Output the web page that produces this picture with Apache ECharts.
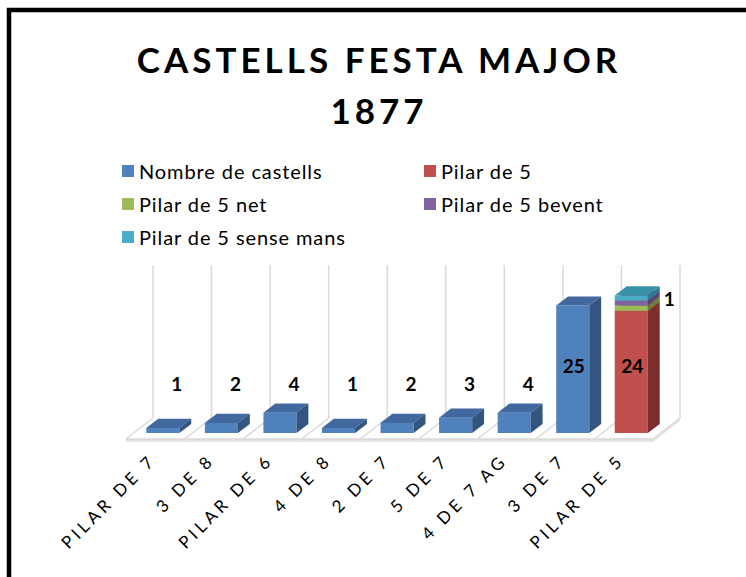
<!DOCTYPE html>
<html>
<head>
<meta charset="utf-8">
<script src="https://cdn.jsdelivr.net/npm/echarts@6/dist/echarts.min.js"></script>
<style>
html, body { margin: 0; padding: 0; background: #fff; }
#chart { width: 746px; height: 577px; }
#chart text[style*="35px"] { letter-spacing: 4px; }
#chart text[style*="17px"] { letter-spacing: 3.8px; }
#chart text[style*="20px"] { letter-spacing: 0.9px; }
</style>
</head>
<body>
<div id="chart"></div>
<script>
// ---- data ----
const titleLines = ['CASTELLS FESTA MAJOR', '1877'];
const categories = ['PILAR DE 7', '3 DE 8', 'PILAR DE 6', '4 DE 8', '2 DE 7', '5 DE 7', '4 DE 7 AG', '3 DE 7', 'PILAR DE 5'];
const seriesNames = ['Nombre de castells', 'Pilar de 5', 'Pilar de 5 net', 'Pilar de 5 bevent', 'Pilar de 5 sense mans'];
const nombreCastells = [1, 2, 4, 1, 2, 3, 4, 25, null];
const pilar5 = [null, null, null, null, null, null, null, null, 24];
const pilar5Net = [null, null, null, null, null, null, null, null, 1];
const pilar5Bevent = [null, null, null, null, null, null, null, null, 1];
const pilar5SenseMans = [null, null, null, null, null, null, null, null, 1];
const yMax = 30;

// ---- styling ----
const seriesValues = [nombreCastells, pilar5, pilar5Net, pilar5Bevent, pilar5SenseMans];
const palette = [
  { front: '#4F81BD', top: '#41699F', side: '#33557F' },
  { front: '#C0504D', top: '#A2403E', side: '#7D2F2D' },
  { front: '#9BBB59', top: '#81A046', side: '#687F37' },
  { front: '#8064A2', top: '#6A5088', side: '#56416F' },
  { front: '#4BACC6', top: '#3A92AA', side: '#2F7A8E' }
];
const DX = 27, DY = -21;      // floor depth vector (px)
const F0 = 0.28, F1 = 0.72;   // bar depth placement
const BAR_RATIO = 0.565;
const FONT = 'Lato, "Open Sans", sans-serif';

function stackBase(k, i) {
  let s = 0;
  for (let j = 0; j < k; j++) s += seriesValues[j][i] || 0;
  return s;
}

function renderWalls(params, api) {
  const i = api.value(0);
  const band = api.size([1, 0])[0];
  const c = api.coord([i, 0]);
  const top = api.coord([i, yMax]);
  const xl = c[0] - band / 2, xr = c[0] + band / 2, y0 = c[1];
  const st = { stroke: '#d9d9d9', lineWidth: 1.5 };
  const ch = [];
  ch.push({ type: 'rect', shape: { x: xl, y: y0, width: band, height: 3 }, style: { fill: '#e4e4e4' } });
  ch.push({ type: 'line', shape: { x1: xl, y1: y0, x2: xr, y2: y0 }, style: st });
  ch.push({ type: 'line', shape: { x1: xl, y1: y0, x2: xl + DX, y2: y0 + DY }, style: st });
  ch.push({ type: 'line', shape: { x1: xl + DX, y1: y0 + DY, x2: xl + DX, y2: top[1] + DY }, style: st });
  if (i === categories.length - 1) {
    ch.push({ type: 'polygon', shape: { points: [[xr, y0], [xr + DX, y0 + DY], [xr + DX, y0 + DY + 3], [xr, y0 + 3]] }, style: { fill: '#e4e4e4' } });
    ch.push({ type: 'line', shape: { x1: xr, y1: y0, x2: xr + DX, y2: y0 + DY }, style: st });
    ch.push({ type: 'line', shape: { x1: xr + DX, y1: y0 + DY, x2: xr + DX, y2: top[1] + DY }, style: st });
  }
  return { type: 'group', children: ch, silent: true };
}

function makeRender(k) {
  const col = palette[k];
  return function (params, api) {
    const i = api.value(0), v = api.value(1), b = api.value(2);
    if (!v) return null;
    const band = api.size([1, 0])[0];
    const p0 = api.coord([i, b]);
    const p1 = api.coord([i, b + v]);
    const w = band * BAR_RATIO;
    const fx = p0[0] + DX * F0 - w / 2;
    const fyB = p0[1] + DY * F0;
    const fyT = p1[1] + DY * F0;
    const ddx = DX * (F1 - F0), ddy = DY * (F1 - F0);
    const ch = [
      { type: 'rect', shape: { x: fx, y: fyT, width: w, height: fyB - fyT }, style: { fill: col.front } },
      { type: 'polygon', shape: { points: [[fx, fyT], [fx + w, fyT], [fx + w + ddx, fyT + ddy], [fx + ddx, fyT + ddy]] }, style: { fill: col.top } },
      { type: 'polygon', shape: { points: [[fx + w, fyT], [fx + w + ddx, fyT + ddy], [fx + w + ddx, fyB + ddy], [fx + w, fyB]] }, style: { fill: col.side } }
    ];
    // data labels (Excel 3D placement)
    let label = null;
    const baseFront = api.coord([i, 0])[1] + DY * F0;
    if (k === 0 || k === 1) {
      const big = v >= 10;
      label = { x: fx + w / 2 + (big ? 1 : 14), y: baseFront - (big ? 68 : 50), align: 'center' };
    } else if (k === seriesValues.length - 1) {
      label = { x: fx + w + ddx + 4, y: fyT + 3, align: 'left' };
    }
    if (label) {
      ch.push({ type: 'text', style: { text: String(v), x: label.x, y: label.y, align: label.align, verticalAlign: 'middle',
        font: 'bold 19px ' + FONT, fill: '#000' }, z2: 10 });
    }
    return { type: 'group', children: ch };
  };
}

const series = [{
  type: 'custom', name: 'walls', renderItem: renderWalls, silent: true, z: 1,
  data: categories.map((c, i) => [i, 0]), encode: { x: 0, y: 1 }
}];
seriesValues.forEach((vals, k) => {
  series.push({
    type: 'custom', name: seriesNames[k], renderItem: makeRender(k), z: 2 + k,
    itemStyle: { color: palette[k].front },
    data: vals.map((v, i) => [i, v, stackBase(k, i)]),
    encode: { x: 0, y: [1] }
  });
});

const chart = echarts.init(document.getElementById('chart'), null, { renderer: 'svg' });
chart.setOption({
  animation: false,
  backgroundColor: '#fff',
  graphic: [
    { type: 'rect', shape: { x: 9, y: 10, width: 800, height: 620 }, style: { fill: 'none', stroke: '#000', lineWidth: 4.5 }, silent: true },
    { type: 'text', style: { text: titleLines[0], x: 379, y: 59, align: 'center', verticalAlign: 'middle', font: 'bold 35px ' + FONT, fill: '#000' } },
    { type: 'text', style: { text: titleLines[1], x: 379, y: 110, align: 'center', verticalAlign: 'middle', font: 'bold 35px ' + FONT, fill: '#000' } }
  ],
  legend: [
    { data: [seriesNames[0], seriesNames[2], seriesNames[4]], orient: 'vertical', left: 117, top: 155, itemWidth: 12, itemHeight: 12,
      itemGap: 11, icon: 'rect', textStyle: { fontFamily: FONT, fontSize: 20, color: '#000', lineHeight: 22 }, selectedMode: false },
    { data: [seriesNames[1], seriesNames[3]], orient: 'vertical', left: 419, top: 155, itemWidth: 12, itemHeight: 12,
      itemGap: 11, icon: 'rect', textStyle: { fontFamily: FONT, fontSize: 20, color: '#000', lineHeight: 22 }, selectedMode: false }
  ],
  grid: { left: 126, width: 527, top: 286, height: 153 },
  xAxis: {
    type: 'category', data: categories,
    axisLine: { show: false }, axisTick: { show: false }, splitLine: { show: false },
    axisLabel: { interval: 0, rotate: 45, margin: 15, padding: [0, 4, 0, 0], fontFamily: FONT, fontSize: 17, color: '#000' }
  },
  yAxis: { type: 'value', min: 0, max: yMax, show: false },
  series: series
});
</script>
</body>
</html>
